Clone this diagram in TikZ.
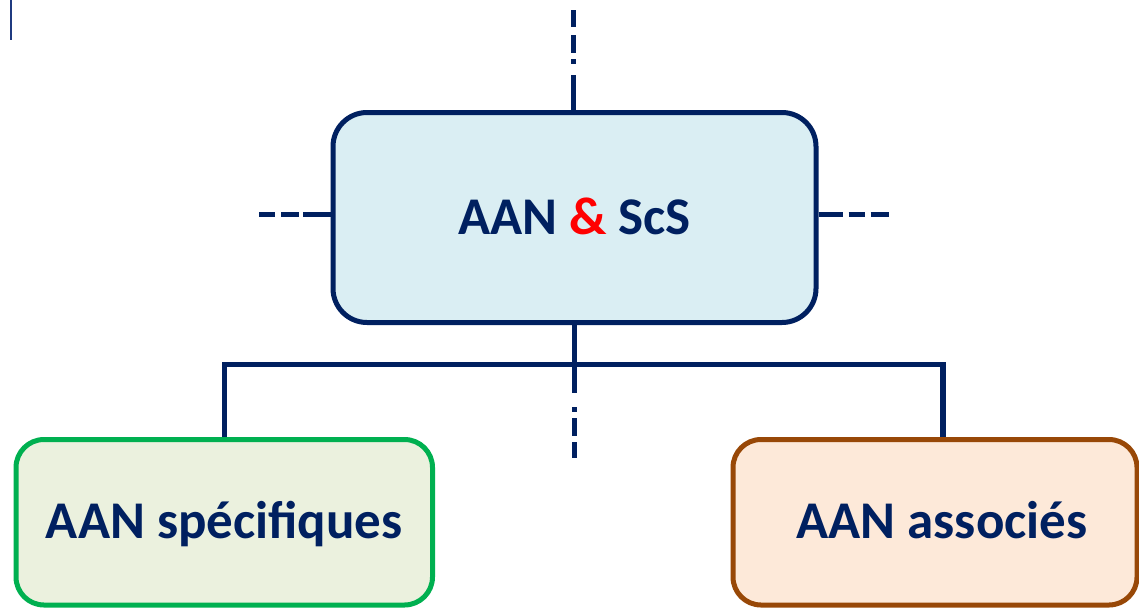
\documentclass[tikz,border=0pt]{standalone}
\usepackage{fontspec}
\setmainfont{Carlito}
\definecolor{navy}{HTML}{002060}
\definecolor{markblue}{HTML}{1F3A80}
\definecolor{mainfill}{HTML}{DAEEF3}
\definecolor{grn}{HTML}{00B050}
\definecolor{grnfill}{HTML}{EBF1DE}
\definecolor{brn}{HTML}{984807}
\definecolor{brnfill}{HTML}{FDE9D9}
\definecolor{ampred}{HTML}{FF0000}
\begin{document}
\begin{tikzpicture}[x=1pt,y=-1pt,line cap=butt,
  conn/.style={draw=navy,line width=5.5pt},
  boxbase/.style={rectangle,line width=5pt,text=navy,inner sep=0pt,
    font=\fontsize{53}{60}\selectfont\bfseries,text height=33pt,text depth=0pt},
  mainbox/.style={boxbase,draw=navy,fill=mainfill,rounded corners=34pt},
  greenbox/.style={boxbase,draw=grn,fill=grnfill,rounded corners=28pt},
  brownbox/.style={boxbase,draw=brn,fill=brnfill,rounded corners=28pt}]
\useasboundingbox (0,0) rectangle (1139,608);
% boxes
\node[mainbox,minimum width=483pt,minimum height=210pt] (main) at (574.5,217.5) {AAN {\color{ampred}\&} ScS};
\node[greenbox,minimum width=416.5pt,minimum height=165.5pt] (left) at (224.25,522.25) {AAN spécifiques};
\node[brownbox,minimum width=404pt,minimum height=165.5pt] (right) at (935,522.25) {\hspace*{14pt}AAN associés};
% free ends
\coordinate (markTop) at (11,0);
\coordinate (markBot) at (11,40);
\coordinate (topend) at (573.5,10);
\coordinate (leftend) at (259,214.5);
\coordinate (rightend) at (889,214.5);
\coordinate (bottomend) at (574.5,458);
\coordinate (bus) at (574.5,364.6);
% connectors
\draw[markblue,line width=2.8pt] (markTop) -- (markBot);
\draw[conn,dash pattern=on 17pt off 8pt on 18pt off 6pt on 5pt off 11pt on 60pt] (topend) -- (topend |- main.north);
\draw[conn,dash pattern=on 16pt off 6pt on 18pt off 4pt on 60pt] (leftend) -- (leftend -| main.west);
\draw[conn,dash pattern=on 24pt off 6pt on 16pt off 6pt on 18pt] (rightend -| main.east) -- (rightend);
\draw[conn,dash pattern=on 68pt off 14pt on 5pt off 6pt on 18pt off 6pt on 18pt] (main.south) -- (bottomend);
\draw[conn,line join=miter] (left.north) |- (bus) -| ([xshift=8pt]right.north);
\end{tikzpicture}
\end{document}
